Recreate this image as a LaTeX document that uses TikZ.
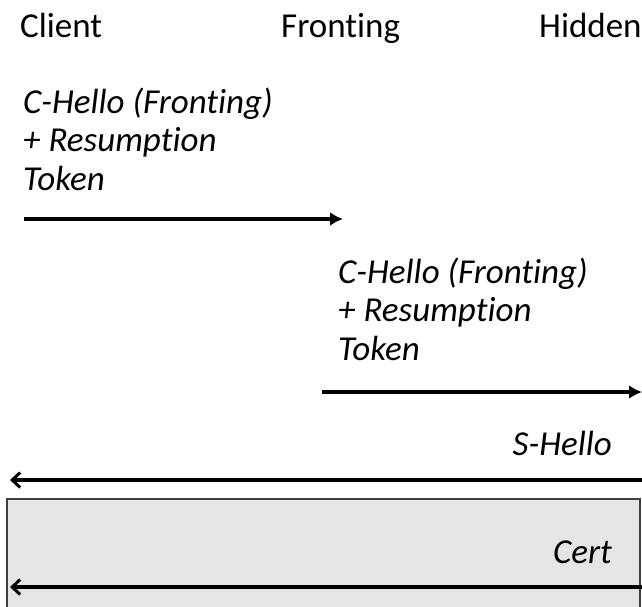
\documentclass[tikz,border=0pt]{standalone}
\usepackage{fontspec}
\setmainfont{Carlito}[Ligatures=NoCommon]
\usetikzlibrary{arrows.meta, positioning}

\begin{document}
\begin{tikzpicture}[
    x=1pt, y=-1pt,
    actor/.style={anchor=base west, inner sep=0pt, font=\fontsize{35}{40}\selectfont},
    msg/.style={inner sep=0pt, align=left, font=\fontsize{35}{38.5}\selectfont\itshape},
    send/.style={line width=4pt, -{Latex[length=13pt, width=14pt]}},
    reply/.style={line width=4pt, -{Straight Barb[length=8pt, width=15pt, line width=3pt]}},
    shade/.style={draw=black!75, line width=1.5pt, fill=black!10}
]
\useasboundingbox (0,0) rectangle (642,606);

% Session box
\draw [shade] (7,499) rectangle (640,612);

% Parties
\node (client) [actor] at (20,37) {Client};
\node (fronting) [actor] at (281,37) {Fronting};
\node (hidden) [actor] at (539,37) {Hidden};

% Messages (base = last line)
\node (chello1) [msg, anchor=base west] at (23,190) {C-Hello (Fronting)\\+ Resumption\\Token};
\node (chello2) [msg, anchor=base west] at (338,360) {C-Hello (Fronting)\\+ Resumption\\Token};
\node (shello) [msg, anchor=base east] at (612,455) {S-Hello};
\node (cert) [msg, anchor=base east] at (612,563) {Cert};

% Arrow ends
\coordinate (c1) at (24,219);
\coordinate (f1) at (343,219);
\coordinate (f2) at (322,392);
\coordinate (h2) at (642,392);
\coordinate (h3) at (642,480);
\coordinate (c3) at (10,480);
\coordinate (h4) at (642,587);
\coordinate (c4) at (10,587);

% Arrows
\draw [send] (c1) -- (f1);
\draw [send] (f2) -- (h2);
\draw [reply] (h3) -- (c3);
\draw [reply] (h4) -- (c4);

\end{tikzpicture}
\end{document}
